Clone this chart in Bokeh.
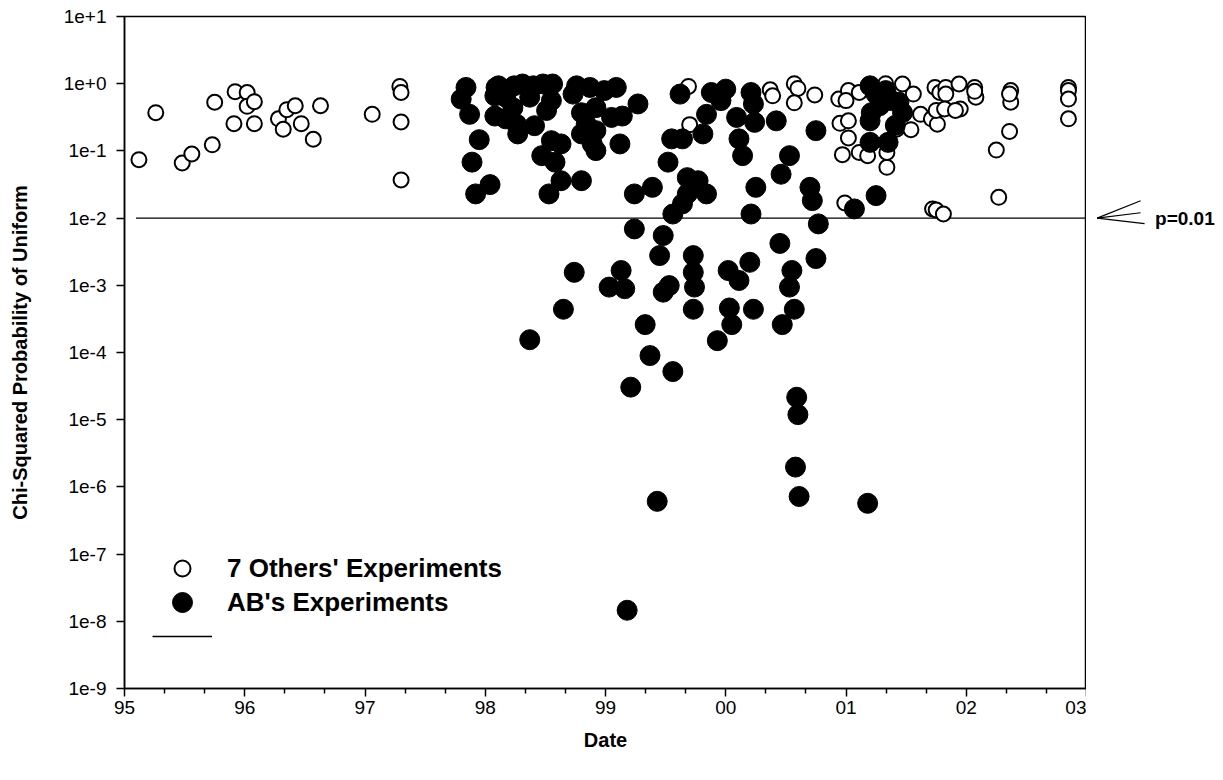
from bokeh.plotting import figure
from bokeh.layouts import row
from bokeh.models import (FixedTicker, CustomJSTickFormatter, Legend, LegendItem,
                          Label)
from bokeh.embed import file_html
from bokeh.resources import INLINE

FONT = "Liberation Sans"

# ---------------- data ----------------
X_TICKS = [95, 96, 97, 98, 99, 100, 101, 102, 103]
Y_TICK_EXPONENTS = [-9, -8, -7, -6, -5, -4, -3, -2, -1, 0, 1]

P_THRESHOLD = 0.01
THRESH_X = [95.096, 103.0]

OTHERS_X = [95.12, 95.26, 95.48, 95.56, 95.73, 95.75, 95.92, 96.02, 96.02, 96.08,
            95.91, 96.08, 96.28, 96.35, 96.42, 96.32, 96.47, 96.63, 96.57, 97.06,
            97.29, 97.30, 97.30, 97.30, 99.69, 99.70, 100.37, 100.39, 100.57, 100.60,
            100.57, 100.74, 100.94, 101.02, 101.00, 100.95, 101.02, 101.02, 100.97, 101.11,
            101.18, 101.34, 101.34, 101.11, 101.33, 101.47, 101.56, 101.42, 101.54, 101.62,
            101.71, 101.76, 101.74, 101.78, 101.83, 101.83, 101.75, 101.82, 101.94, 101.95,
            101.91, 102.07, 102.08, 102.07, 102.37, 102.37, 102.36, 102.36, 102.25, 102.27,
            102.85, 102.85, 102.85, 102.85, 100.99, 101.72, 101.75, 101.81]
OTHERS_P = [0.074, 0.37, 0.066, 0.090, 0.123, 0.53, 0.76, 0.74, 0.46, 0.54,
            0.254, 0.254, 0.30, 0.41, 0.47, 0.21, 0.254, 0.47, 0.149, 0.35,
            0.91, 0.74, 0.27, 0.037, 0.91, 0.246, 0.81, 0.66, 1.0, 0.85,
            0.52, 0.68, 0.59, 0.79, 0.56, 0.257, 0.28, 0.156, 0.088, 0.095,
            0.085, 0.057, 0.095, 0.74, 1.0, 0.99, 0.70, 0.21, 0.207, 0.35,
            0.30, 0.25, 0.88, 0.74, 0.88, 0.70, 0.40, 0.42, 0.99, 0.42,
            0.40, 0.88, 0.63, 0.77, 0.79, 0.53, 0.70, 0.195, 0.103, 0.0204,
            0.88, 0.79, 0.59, 0.30, 0.0168, 0.0137, 0.0132, 0.0115]

AB_X = [97.84, 97.80, 97.87, 97.95, 97.89, 97.92, 98.04, 98.09, 98.08, 98.08,
        98.11, 98.24, 98.31, 98.17, 98.23, 98.26, 98.17, 98.27, 98.40, 98.37,
        98.41, 98.48, 98.56, 98.55, 98.51, 98.55, 98.63, 98.47, 98.58, 98.63,
        98.53, 98.80, 98.76, 98.73, 98.87, 98.99, 99.09, 98.80, 98.92, 98.84,
        98.80, 98.92, 99.05, 99.14, 98.89, 98.92, 99.12, 99.27, 99.62, 99.55,
        99.64, 99.52, 99.24, 99.39, 99.68, 99.77, 99.84, 99.68, 99.64, 99.56,
        99.24, 99.48, 99.45, 99.73, 99.88, 100.00, 99.96, 99.84, 99.81, 100.21,
        100.23, 100.09, 100.24, 100.11, 100.14, 100.42, 100.53, 100.46, 100.25, 100.21,
        100.45, 100.20, 100.70, 100.72, 100.75, 100.77, 100.75, 99.73, 99.74, 98.74,
        99.13, 99.03, 99.16, 99.53, 99.48, 98.65, 99.73, 100.02, 100.11, 100.03,
        100.05, 100.23, 99.93, 99.33, 98.37, 99.37, 99.56, 99.21, 100.55, 100.53,
        100.57, 100.47, 100.59, 100.60, 100.58, 100.61, 99.43, 101.18, 99.18, 101.20,
        101.25, 101.33, 101.21, 101.20, 101.44, 101.47, 101.38, 101.20, 101.35, 101.07,
        101.25, 101.28, 101.41]
AB_P = [0.88, 0.59, 0.35, 0.147, 0.068, 0.0229, 0.0315, 0.88, 0.33, 0.66,
        0.93, 0.93, 0.99, 0.63, 0.44, 0.25, 0.30, 0.179, 0.93, 0.63,
        0.237, 0.99, 0.99, 0.56, 0.40, 0.142, 0.127, 0.085, 0.068, 0.036,
        0.0229, 0.036, 0.93, 0.70, 0.88, 0.79, 0.88, 0.37, 0.44, 0.25,
        0.179, 0.20, 0.315, 0.33, 0.127, 0.101, 0.127, 0.50, 0.70, 0.151,
        0.151, 0.068, 0.0229, 0.0287, 0.040, 0.036, 0.0229, 0.0229, 0.0163, 0.0115,
        0.0069, 0.0055, 0.00277, 0.00277, 0.74, 0.83, 0.56, 0.35, 0.179, 0.74,
        0.50, 0.315, 0.266, 0.151, 0.085, 0.28, 0.085, 0.045, 0.0287, 0.0115,
        0.0042, 0.0022, 0.0287, 0.0182, 0.20, 0.0082, 0.0025, 0.00156, 0.00094, 0.00156,
        0.00166, 0.00094, 0.00089, 0.00099, 0.00079, 0.00044, 0.00044, 0.00166, 0.00118, 0.00046,
        0.00026, 0.00044, 0.00015, 0.00026, 0.000155, 0.000090, 0.000052, 0.0000305, 0.00166, 0.00094,
        0.00044, 0.00026, 0.0000216, 0.0000119, 0.00000197, 0.00000072, 0.00000061, 0.00000057,
        0.0000000146, 0.93,
        0.70, 0.79, 0.37, 0.28, 0.53, 0.37, 0.56, 0.134, 0.134, 0.0137,
        0.0216, 0.47, 0.24]

LEGEND_LABELS = ["7 Others' Experiments", "AB's Experiments", " "]
THRESH_LABEL = "p=0.01"
X_TITLE = "Date"
Y_TITLE = "Chi-Squared Probability of Uniform"

# pointer to the threshold, drawn right of the plot (same x/y scales)
PTR_X0 = 103.088
PTR_ENDS_X = [103.45, 103.45, 103.483]
PTR_ENDS_P = [0.01815, 0.0120, 0.00826]
PTR_LABEL_X = 103.57

# ---------------- layout constants ----------------
LEFT, RIGHT_PANEL, TOP, BOTTOM = 124, 137, 16, 92
FRAME_W = 962
PX_PER_YEAR = FRAME_W / 8.0

# ---------------- main figure ----------------
p = figure(width=LEFT + FRAME_W, height=780, x_range=(95, 103), y_range=(1e-9, 10),
           y_axis_type="log", output_backend="svg", toolbar_location=None,
           min_border_left=LEFT, min_border_right=0,
           min_border_top=TOP, min_border_bottom=BOTTOM)
p.grid.visible = False
p.outline_line_color = "black"
p.outline_line_width = 1.5
p.background_fill_color = "white"
p.border_fill_color = "white"

minor = [y + k / 3 for y in X_TICKS[:-1] for k in (1, 2)]
p.xaxis.ticker = FixedTicker(ticks=X_TICKS, minor_ticks=minor)
p.xaxis.formatter = CustomJSTickFormatter(
    code="const v = Math.round(tick) % 100; return (v < 10 ? '0' : '') + v;")
p.yaxis.ticker = FixedTicker(ticks=[10.0 ** e for e in Y_TICK_EXPONENTS], minor_ticks=[])
p.yaxis.formatter = CustomJSTickFormatter(
    code="const e = Math.round(Math.log10(tick)); return e >= 0 ? '1e+' + e : '1e' + e;")

for ax in (p.xaxis[0], p.yaxis[0]):
    ax.axis_line_width = 1.5
    ax.axis_line_color = "black"
    ax.major_tick_line_width = 1.5
    ax.major_tick_line_color = "black"
    ax.major_tick_in = 0
    ax.major_tick_out = 8
    ax.major_label_text_font = FONT
    ax.major_label_text_font_size = "19px"
    ax.major_label_text_color = "black"
    ax.axis_label_text_font = FONT
    ax.axis_label_text_font_size = "20px"
    ax.axis_label_text_font_style = "bold"
    ax.axis_label_text_color = "black"

p.xaxis.minor_tick_in = 0
p.xaxis.minor_tick_out = 5
p.xaxis.minor_tick_line_width = 1.5
p.xaxis.minor_tick_line_color = "black"
p.yaxis.minor_tick_line_color = None
p.xaxis.major_label_standoff = 4
p.xaxis.axis_label_standoff = 12
p.yaxis.major_label_standoff = 10
p.yaxis.axis_label_standoff = 30
p.xaxis.axis_label = X_TITLE
p.yaxis.axis_label = Y_TITLE

r_line = p.line(THRESH_X, [P_THRESHOLD] * len(THRESH_X), line_color="black", line_width=1.4)
r_open = p.scatter(OTHERS_X, OTHERS_P, size=15, marker="circle",
                   fill_color="white", line_color="black", line_width=2)
r_ab = p.scatter(AB_X, AB_P, size=20, marker="circle",
                 fill_color="black", line_color="black", line_width=1)

# legend: one block per entry so that each can keep its own marker size
legend_specs = [(LEGEND_LABELS[0], r_open, 40, (28, 100)),
                (LEGEND_LABELS[1], r_ab, 50, (28, 61)),
                (LEGEND_LABELS[2], r_line, 20, (28, 42))]
for label, rend, gh, loc in legend_specs:
    lg = Legend(items=[LegendItem(label=label, renderers=[rend])],
                location=loc, glyph_width=60, glyph_height=gh,
                label_standoff=15, padding=0, margin=0, spacing=0,
                border_line_color=None, background_fill_alpha=0,
                label_text_font=FONT, label_text_font_style="bold",
                label_text_font_size="26px", label_text_color="black",
                label_height=gh)
    p.add_layout(lg)

# ---------------- right-hand annotation strip ----------------
q = figure(width=RIGHT_PANEL, height=780,
           x_range=(103.0, 103.0 + RIGHT_PANEL / PX_PER_YEAR), y_range=(1e-9, 10),
           y_axis_type="log", output_backend="svg", toolbar_location=None,
           x_axis_location=None, y_axis_location=None,
           min_border_left=0, min_border_right=0,
           min_border_top=TOP, min_border_bottom=BOTTOM)
q.grid.visible = False
q.outline_line_color = None
q.background_fill_color = "white"
q.border_fill_color = "white"
q.segment(x0=[PTR_X0] * len(PTR_ENDS_X), y0=[P_THRESHOLD] * len(PTR_ENDS_X),
          x1=PTR_ENDS_X, y1=PTR_ENDS_P, line_color="black", line_width=1.2)
q.add_layout(Label(x=PTR_LABEL_X, y=P_THRESHOLD, text=THRESH_LABEL,
                   text_baseline="middle", text_align="left",
                   text_font=FONT, text_font_size="19px", text_font_style="bold",
                   text_color="black"))

layout = row(p, q, spacing=0)
open("out.html", "w").write(file_html(layout, INLINE))
